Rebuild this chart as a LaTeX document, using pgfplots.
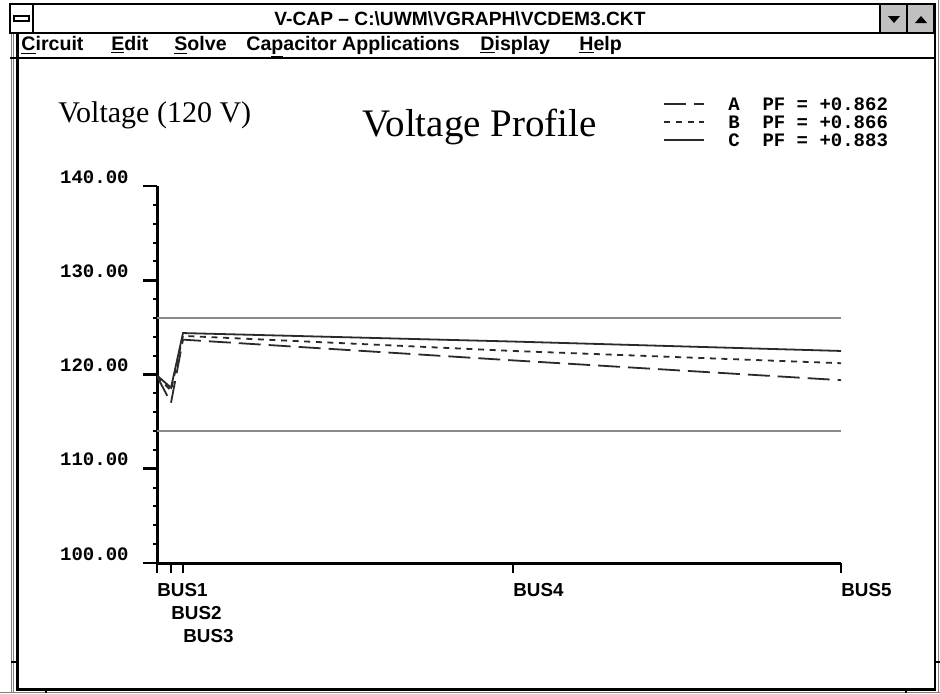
\documentclass[border=0pt]{standalone}
\usepackage{fontspec}
\setmainfont{Liberation Serif}
\newfontfamily\sansf{Liberation Sans}
\newfontfamily\monof{Liberation Mono}
\usepackage{pgfplots}
\pgfplotsset{compat=1.18}
\definecolor{btngray}{HTML}{C0C0C0}
\definecolor{limgray}{HTML}{8A8A8A}
\definecolor{plotline}{HTML}{2A2A2A}
\definecolor{framegray}{HTML}{808080}
\newcommand\ul[1]{\underline{#1}}
\begin{document}
\begin{tikzpicture}
\path[use as bounding box, fill=white] (0,0) rectangle (470pt,-346.5pt);
\begin{scope}[x=0.5pt,y=-0.5pt]
  % outer frame lines
  \draw[framegray, line width=0.5pt] (11,33) -- (11,693);
  \draw[framegray, line width=0.5pt] (13,33) -- (13,693);
  \draw[framegray, line width=0.5pt] (938,0) -- (938,693);
  \draw[framegray, line width=0.5pt] (0,692) -- (940,692);
  % title bar
  \draw[line width=1pt, fill=white] (10,4) rectangle (935,33);
  \draw[line width=1pt, fill=white] (10,4) rectangle (33,33);
  \draw[line width=0.8pt, fill=white] (14,16) rectangle (29,21);
  \draw[line width=1pt, fill=btngray] (880,4) rectangle (907,33);
  \draw[line width=1pt, fill=btngray] (907,4) rectangle (934,33);
  \fill (888,16) -- (900,16) -- (894,23) -- cycle;
  \fill (915,23) -- (927,23) -- (921,16) -- cycle;
  \node[font=\sansf\bfseries\fontsize{9.6}{11}\selectfont] at (460,19)
    {V-CAP \textendash{} C:\textbackslash UWM\textbackslash VGRAPH\textbackslash VCDEM3.CKT};
  % menu bar
  \draw[line width=1pt] (10,58) -- (935,58);
  \begin{scope}[every node/.style={anchor=base west, inner sep=0pt, font=\sansf\bfseries\fontsize{9.8}{11}\selectfont}]
    \node at (21,50) {\ul{C}ircuit};
    \node at (111,50) {\ul{E}dit};
    \node at (174,50) {\ul{S}olve};
    \node at (246,50) {Ca\ul{p}acitor Applications};
    \node at (480,50) {\ul{D}isplay};
    \node at (579,50) {\ul{H}elp};
  \end{scope}
  % client frame
  \draw[line width=1.2pt] (17.5,33) -- (17.5,689.5) -- (935,689.5) -- (935,4);
  \draw[line width=0.8pt] (11,662) -- (19,662);
  \draw[line width=0.8pt] (935,662) -- (940,662);
  \draw[line width=0.8pt] (46,689) -- (46,693);
  \draw[line width=0.8pt] (906,689) -- (906,693);
  % chart texts
  \node[anchor=base west, inner sep=0pt, font=\fontsize{15}{18}\selectfont] at (58,122) {Voltage (120 V)};
  \node[anchor=base west, inner sep=0pt, font=\fontsize{19.5}{23}\selectfont] at (362,136) {Voltage Profile};
\end{scope}
\begin{axis}[
  at={(78.5pt,-281.5pt)}, anchor=south west,
  scale only axis, width=342pt, height=188.5pt,
  xmin=0, xmax=684, ymin=100, ymax=140, enlargelimits=false,
  axis lines=left, axis line style={-, line width=1.5pt, black},
  tick align=outside,
  xtick={0,14,26,356,684},
  xticklabels={{\rule{0pt}{7pt}BUS1},{\rule{0pt}{7pt}\\BUS2},{\rule{0pt}{7pt}\\\rule{0pt}{7pt}\\BUS3},{\rule{0pt}{7pt}BUS4},{\rule{0pt}{7pt}BUS5}},
  ytick={100,110,120,130,140},
  minor y tick num=4,
  major tick length=7pt, minor tick length=2pt,
  major tick style={line width=1.3pt, black},
  minor tick style={line width=1pt, black},
  major x tick style={/pgfplots/major tick length=5pt},
  xticklabel style={font=\sansf\bfseries\fontsize{9.4}{11.5}\selectfont, anchor=north west, align=left, inner sep=0pt, yshift=-2.5pt},
  yticklabel style={font=\monof\bfseries\fontsize{9.5}{10}\selectfont, anchor=south east, inner sep=0pt, xshift=-7pt, yshift=1.2pt, /pgf/number format/.cd, fixed, fixed zerofill, precision=2, assume math mode=true},
  legend style={at={(axis description cs:0.7398,1.236)}, anchor=north west, draw=none, fill=none, inner sep=0pt, row sep=2.5pt, column sep=0pt,
    font=\monof\bfseries\fontsize{9.5}{10}\selectfont, nodes={inner sep=0pt, text height=6.5pt, text depth=0pt}},
  legend cell align=left,
  legend image code/.code={\draw[#1] (0pt,0pt) -- (20pt,0pt); \path[draw=none] (0pt,0pt) -- (32pt,0pt);},
]
\addplot[limgray, line width=1pt, forget plot] coordinates {(0,126) (684,126)};
\addplot[limgray, line width=1pt, forget plot] coordinates {(0,114) (684,114)};
\addplot[plotline, line width=0.9pt, dash pattern=on 11pt off 4pt] coordinates {(0,119.8) (14,117.0) (26,123.7) (356,121.5) (684,119.4)};
\addlegendentry{A\ \ PF = +0.862}
\addplot[plotline, line width=0.9pt, dash pattern=on 3pt off 2.8pt] coordinates {(0,119.8) (14,118.3) (26,124.1) (356,122.5) (684,121.2)};
\addlegendentry{B\ \ PF = +0.866}
\addplot[plotline, line width=0.9pt] coordinates {(0,119.9) (14,118.6) (26,124.4) (356,123.5) (684,122.5)};
\addlegendentry{C\ \ PF = +0.883}
\end{axis}
\end{tikzpicture}
\end{document}
